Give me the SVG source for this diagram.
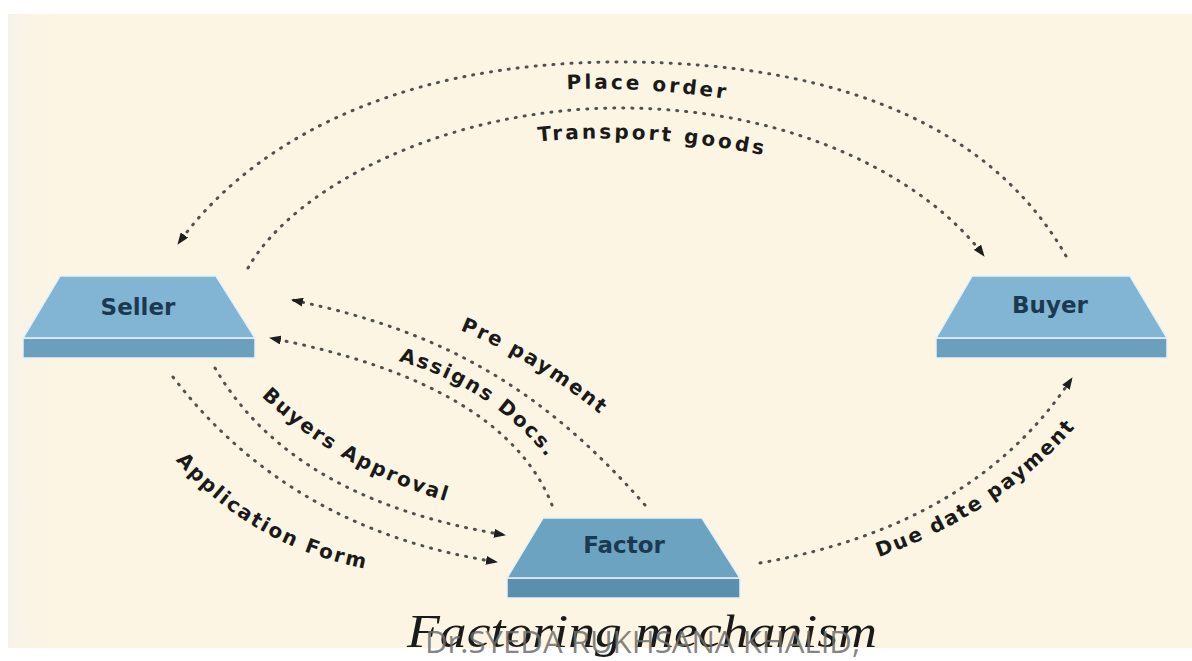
<svg xmlns="http://www.w3.org/2000/svg" width="1192" height="661" viewBox="0 0 1192 661">
  <defs>
    <style>
      .conn { fill: none; stroke: #505050; stroke-width: 3; stroke-linecap: round; stroke-dasharray: 1 8; }
      .lbl { font-family: "DejaVu Sans", Verdana, sans-serif; font-weight: bold; font-size: 20px; fill: #1a1a1a; letter-spacing: 2px; }
      .lbl-top { letter-spacing: 3px; }
      .node-text { font-family: "DejaVu Sans", Verdana, sans-serif; font-weight: bold; font-size: 23px; fill: #1b3a52; text-anchor: middle; }
      .face { fill: #82b5d3; stroke: #e6f2f6; stroke-width: 1.5; }
      .band { fill: #6c9fbe; stroke: #e6f2f6; stroke-width: 1.5; }
      .face-f { fill: #6ca3c1; stroke: #e6f2f6; stroke-width: 1.5; }
      .band-f { fill: #5b8fad; stroke: #e6f2f6; stroke-width: 1.5; }
    </style>
    <linearGradient id="bg" x1="0" y1="0" x2="1" y2="0">
      <stop offset="0" stop-color="#f7f2e9"/>
      <stop offset="0.04" stop-color="#fcf5e3"/>
      <stop offset="1" stop-color="#fcf5e3"/>
    </linearGradient>
    <marker id="arr" viewBox="0 0 12 9" refX="11" refY="4.5" markerWidth="12" markerHeight="9" markerUnits="userSpaceOnUse" orient="auto">
      <path d="M0,0 L12,4.5 L0,9 z" fill="#1e1e1e"/>
    </marker>
    <path id="p-place" d="M555,90 Q640,85 740,101"/>
    <path id="p-transport" d="M526,143 Q640,129 778,158"/>
    <path id="p-pre" d="M452,327 Q535,359 608,421"/>
    <path id="p-assigns" d="M398,361 Q490,386 548,459"/>
    <path id="p-buyers" d="M258,393 Q335,469 452,503"/>
    <path id="p-app" d="M172,456 Q250,548 372,570"/>
    <path id="p-due" d="M876,558 Q1000,515 1078,424"/>
  </defs>

  <rect x="0" y="0" width="1192" height="661" fill="#ffffff"/>
  <rect x="8" y="14" width="1184" height="634" fill="url(#bg)"/>

  <g id="connectors">
    <path class="conn" d="M1066,256 C1000,140 860,62 620,62 C380,62 242,154 178,244" marker-end="url(#arr)"/>
    <path class="conn" d="M248,268 C295,185 450,108 620,108 C800,108 930,183 984,256" marker-end="url(#arr)"/>
    <path class="conn" d="M645,505 C542,388 443,331 292,300" marker-end="url(#arr)"/>
    <path class="conn" d="M552,505 C520,424 426,368 270,338" marker-end="url(#arr)"/>
    <path class="conn" d="M215,368 C267,457 364,512 505,535" marker-end="url(#arr)"/>
    <path class="conn" d="M173,377 C252,480 360,541 497,562" marker-end="url(#arr)"/>
    <path class="conn" d="M760,563 C903,538 1007,477 1072,378" marker-end="url(#arr)"/>

    <text class="lbl lbl-top"><textPath href="#p-place" startOffset="50%" text-anchor="middle">Place order</textPath></text>
    <text class="lbl lbl-top"><textPath href="#p-transport" startOffset="50%" text-anchor="middle">Transport goods</textPath></text>
    <text class="lbl"><textPath href="#p-pre" startOffset="50%" text-anchor="middle">Pre payment</textPath></text>
    <text class="lbl"><textPath href="#p-assigns" startOffset="50%" text-anchor="middle">Assigns Docs.</textPath></text>
    <text class="lbl"><textPath href="#p-buyers" startOffset="50%" text-anchor="middle">Buyers Approval</textPath></text>
    <text class="lbl"><textPath href="#p-app" startOffset="50%" text-anchor="middle">Application Form</textPath></text>
    <text class="lbl"><textPath href="#p-due" startOffset="50%" text-anchor="middle">Due date payment</textPath></text>
  </g>

  <g id="seller">
    <rect class="band" x="23" y="338" width="232" height="20"/>
    <polygon class="face" points="60,276 216,276 255,338 23,338"/>
    <text class="node-text" x="138" y="315">Seller</text>
  </g>

  <g id="buyer">
    <rect class="band" x="936" y="338" width="231" height="20"/>
    <polygon class="face" points="972,276 1130,276 1167,338 936,338"/>
    <text class="node-text" x="1050" y="313">Buyer</text>
  </g>

  <g id="factor">
    <rect class="band-f" x="507" y="578" width="233" height="20"/>
    <polygon class="face-f" points="543,518 702,518 740,578 507,578"/>
    <text class="node-text" x="624" y="553">Factor</text>
  </g>

  <g id="caption">
    <text x="407" y="647" font-family="Liberation Serif, serif" font-style="italic" font-size="46" fill="#1a1a1a" textLength="470" lengthAdjust="spacingAndGlyphs">Factoring mechanism</text>
    <text x="425" y="653" font-family="Open Sans, sans-serif" font-size="31" fill="#6e6e6e" fill-opacity="0.85" textLength="435" lengthAdjust="spacingAndGlyphs">Dr.SYEDA RUKHSANA KHALID,</text>
  </g>
</svg>
